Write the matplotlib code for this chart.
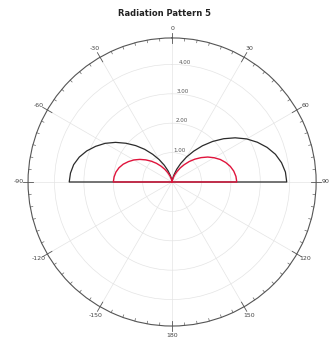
import numpy as np
import matplotlib.pyplot as plt

# angles in degrees, measured clockwise from north
theta_deg = list(range(-90, 95, 5))

pattern_a = [3.50, 3.47, 3.40, 3.27, 3.09, 2.87, 2.63, 2.35, 2.05, 1.75,
             1.45, 1.15, 0.88, 0.63, 0.41, 0.23, 0.11, 0.03, 0.0,
             0.03, 0.12, 0.26, 0.46, 0.70, 0.98, 1.28, 1.61, 1.95,
             2.29, 2.62, 2.93, 3.20, 3.44, 3.64, 3.78, 3.87, 3.90]
pattern_b = [2.00, 1.98, 1.94, 1.87, 1.77, 1.64, 1.50, 1.34, 1.17, 1.00,
             0.83, 0.66, 0.50, 0.36, 0.23, 0.13, 0.06, 0.02, 0.0,
             0.02, 0.07, 0.15, 0.26, 0.39, 0.55, 0.72, 0.91, 1.10,
             1.29, 1.48, 1.65, 1.81, 1.94, 2.05, 2.13, 2.18, 2.20]

r_ticks = [1, 2, 3, 4]
r_labels = ["1.00", "2.00", "3.00", "4.00"]
angle_ticks = [0, 30, 60, 90, 120, 150, 180, 210, 240, 270, 300, 330]
angle_labels = ["0", "30", "60", "90", "120", "150", "180",
                "-150", "-120", "-90", "-60", "-30"]
r_max = 4.9


def closed_path(angles, radii):
    # run back along the horizon through the origin so each lobe pair is closed
    th = np.deg2rad([angles[0]] + list(angles) + [angles[-1]])
    r = [0.0] + list(radii) + [0.0]
    return th, r


fig = plt.figure(figsize=(3.3, 3.45), dpi=100)
ax = fig.add_axes([0.085, 0.055, 0.873, 0.835], projection="polar")
ax.set_theta_zero_location("N")
ax.set_theta_direction(-1)
ax.set_ylim(0, r_max)

th, r = closed_path(theta_deg, pattern_a)
ax.plot(th, r, color="#2b2b2b", lw=0.9)
th, r = closed_path(theta_deg, pattern_b)
ax.plot(th, r, color="#e0143c", lw=1.0)

ax.set_xticks(np.deg2rad(angle_ticks))
ax.set_xticklabels(angle_labels, fontsize=4.5, color="#444444")
ax.tick_params(axis="x", length=0, pad=0)

# tick marks around the rim: short ones every 5 deg, long crossing ones every 30
for a in range(0, 360, 5):
    t = np.deg2rad(a)
    if a % 30 == 0:
        ax.plot([t, t], [r_max - 0.18, r_max + 0.18], color="#555555",
                lw=0.6, clip_on=False)
    else:
        ax.plot([t, t], [r_max - 0.09, r_max], color="#666666",
                lw=0.5, clip_on=False)

ax.set_yticks(r_ticks)
ax.set_yticklabels(r_labels, fontsize=4, color="#555555")
ax.set_rlabel_position(3)
ax.set_ylim(0, r_max)

ax.grid(True, color="#e4e4e4", lw=0.5)
ax.spines["polar"].set_color("#555555")
ax.spines["polar"].set_linewidth(0.8)

fig.suptitle("Radiation Pattern 5", fontsize=6, fontweight="bold",
             y=0.975, color="#222222")

fig.savefig("out.png", dpi=100)
